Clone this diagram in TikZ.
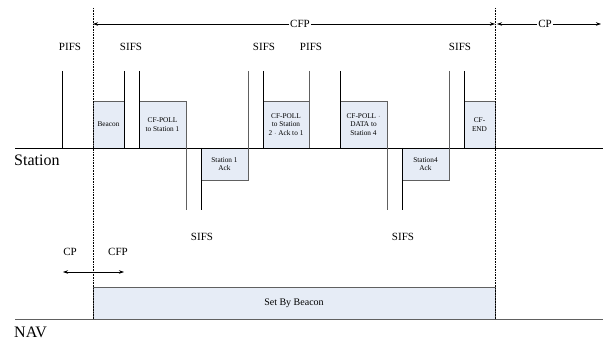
\documentclass[tikz,border=0pt]{standalone}
\usepackage{fontspec}
\setmainfont{Liberation Serif}
\usetikzlibrary{arrows.meta}
\definecolor{boxfill}{HTML}{E6ECF6}
\definecolor{edge}{HTML}{606060}
\tikzset{
  pkt/.style={draw=edge, fill=boxfill, line width=0.8pt, inner sep=0pt, outer sep=0pt, align=center, font=\fontsize{7.3}{8.5}\selectfont},
  lbl/.style={font=\fontsize{11}{12}\selectfont, inner sep=0pt},
  big/.style={font=\fontsize{16}{18}\selectfont, inner sep=0pt},
  tick/.style={line width=0.8pt, black},
  gtick/.style={line width=0.8pt, edge},
  bound/.style={densely dotted, line width=0.6pt, black},
  arr/.style={line width=0.6pt, -{Stealth[length=5pt,width=3.5pt]}},
}
\begin{document}
\begin{tikzpicture}[x=1pt,y=-1pt]
\useasboundingbox (0,0) rectangle (603,342);
% baselines
\coordinate (sl) at (15,148); \coordinate (sr) at (603,148);
\coordinate (nl) at (15,319); \coordinate (nr) at (603,319);
% packets
\node[pkt, anchor=south west, minimum width=31pt, minimum height=47pt] (beacon) at (93,148) {Beacon};
\node[pkt, anchor=south west, minimum width=47pt, minimum height=47pt] (poll1) at (139,148) {CF-POLL\\to Station 1};
\node[pkt, anchor=north west, minimum width=47pt, minimum height=32pt] (ack1) at (201,148) {Station 1\\Ack};
\node[pkt, anchor=south west, minimum width=46pt, minimum height=47pt] (poll2) at (263,148) {CF-POLL\\to Station\\2 $\cdot$ Ack to 1};
\node[pkt, anchor=south west, minimum width=47pt, minimum height=47pt] (poll4) at (340,148) {CF-POLL $\cdot$\\DATA to\\Station 4};
\node[pkt, anchor=north west, minimum width=47pt, minimum height=32pt] (ack4) at (402,148) {Station4\\Ack};
\node[pkt, anchor=south west, minimum width=31pt, minimum height=47pt] (cfend) at (464,148) {CF-\\END};
\node[pkt, anchor=south west, minimum width=402pt, minimum height=32pt, font=\fontsize{10}{12}\selectfont] (nav) at (93,319) {Set By Beacon};
% baselines drawn
\draw[line width=0.8pt] (sl) -- (sr);
\draw[line width=0.8pt, edge] (nl) -- (nr);
% vertical ticks
\draw[tick] (62,71) -- (62,148);
\draw[tick] (124,71) -- (beacon.south east);
\draw[tick] (139,71) -- (poll1.south west);
\draw[gtick] (poll1.north east) -- (186,210);
\draw[tick] (ack1.north west) -- (201,210);
\draw[gtick] (248,71) -- (ack1.south east);
\draw[tick] (263,71) -- (poll2.south west);
\draw[gtick] (309,71) -- (poll2.south east);
\draw[tick] (340,71) -- (poll4.south west);
\draw[gtick] (poll4.north east) -- (387,210);
\draw[tick] (ack4.north west) -- (402,210);
\draw[gtick] (449,71) -- (ack4.south east);
\draw[tick] (464,71) -- (cfend.south west);
% CFP boundaries
\coordinate (b1t) at (93,8); \coordinate (b1b) at (93,319);
\coordinate (b2t) at (495,8); \coordinate (b2b) at (495,319);
\draw[bound] (b1t) -- (b1b);
\draw[bound] (b2t) -- (b2b);
% top arrows
\coordinate (cfpL) at (93,24); \coordinate (cfpR) at (495,24);
\coordinate (cpL) at (497,24); \coordinate (cpR) at (601,24);
\node[lbl, fill=white, inner xsep=1pt] (cfpTop) at (300,24) {CFP};
\node[lbl, fill=white, inner xsep=1pt] (cpTop) at (545,24) {CP};
\draw[arr] (cfpTop.west) -- (cfpL);
\draw[arr] (cfpTop.east) -- (cfpR);
\draw[arr] (cpTop.west) -- (cpL);
\draw[arr] (cpTop.east) -- (cpR);
% interval labels
\node[lbl] (p1) at (70,47) {PIFS};
\node[lbl] (s1) at (131,47) {SIFS};
\node[lbl] (s2) at (264,47) {SIFS};
\node[lbl] (p2) at (311,47) {PIFS};
\node[lbl] (s3) at (460,47) {SIFS};
\node[lbl] (s4) at (202,237) {SIFS};
\node[lbl] (s5) at (403,237) {SIFS};
% CP/CFP small arrow
\node[lbl] (cpS) at (70,252) {CP};
\node[lbl] (cfpS) at (118,252) {CFP};
\coordinate (m) at (93,272);
\coordinate (mL) at (63,272); \coordinate (mR) at (124,272);
\draw[arr] (m) -- (mL);
\draw[arr] (m) -- (mR);
% row labels
\node[big, anchor=west] (station) at (14,160) {Station};
\node[big, anchor=west] (navlbl) at (14,332) {NAV};
\end{tikzpicture}
\end{document}
